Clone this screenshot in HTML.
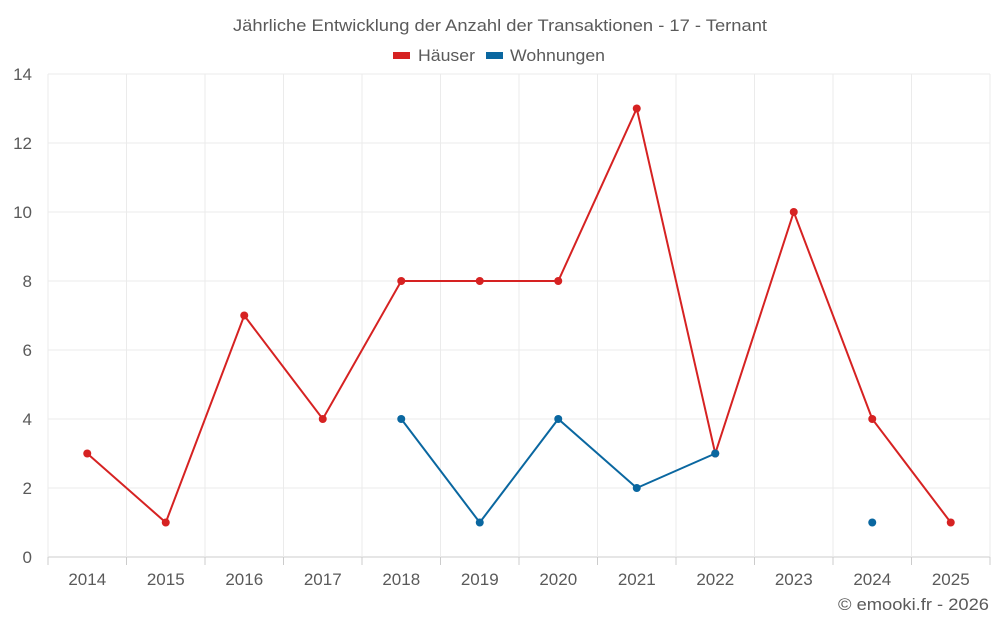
<!DOCTYPE html>
<html><head><meta charset="utf-8"><style>
body{margin:0;background:#fff;font-family:"Liberation Sans",sans-serif;}
svg text{font-family:"Liberation Sans",sans-serif;}
</style></head><body>
<svg id="chart" width="1000" height="625" viewBox="0 0 1000 625" xmlns="http://www.w3.org/2000/svg">
<text x="233" y="31" textLength="534" lengthAdjust="spacingAndGlyphs" font-size="17" fill="#5a5a5a">Jährliche Entwicklung der Anzahl der Transaktionen - 17 - Ternant</text>
<g>
<g><rect x="393" y="52" width="17" height="7" fill="#d62222"/><text x="418" y="61" textLength="57" lengthAdjust="spacingAndGlyphs" font-size="17" fill="#5a5a5a">Häuser</text></g>
<g><rect x="486" y="52" width="17" height="7" fill="#0a67a0"/><text x="510" y="61" textLength="95" lengthAdjust="spacingAndGlyphs" font-size="17" fill="#5a5a5a">Wohnungen</text></g>
</g>
<g id="grid"></g><g id="axes"></g><g id="series"></g>
<text x="838" y="610" textLength="151" lengthAdjust="spacingAndGlyphs" font-size="17" fill="#5a5a5a">© emooki.fr - 2026</text>
</svg>
<script>
const categories=[2014,2015,2016,2017,2018,2019,2020,2021,2022,2023,2024,2025];
const haeuser=[3,1,7,4,8,8,8,13,3,10,4,1];
const wohnungen=[null,null,null,null,4,1,4,2,3,null,1,null];
const yTicks=[0,2,4,6,8,10,12,14];
const NS="http://www.w3.org/2000/svg";
const L=48,R=990,T=74,B=557,yMax=14;
const bw=(R-L)/categories.length;
const x=i=>L+bw*(i+0.5);
const y=v=>B-(v/yMax)*(B-T);
function mk(tag,attrs,parent){const e=document.createElementNS(NS,tag);for(const k in attrs)e.setAttribute(k,attrs[k]);parent.appendChild(e);return e;}
const grid=document.getElementById('grid'),axes=document.getElementById('axes'),series=document.getElementById('series');
yTicks.forEach(t=>{
 const ln=mk('line',{x1:L,x2:R,y1:y(t),y2:y(t),stroke:t===0?'#ccc':'#ebebeb','stroke-width':1},grid);
 
 
 const tx=mk('text',{x:L-16,y:y(t)+6,'text-anchor':'end','font-size':17,fill:'#5a5a5a'},axes);
 tx.textContent=t;
 
 
});
for(let i=0;i<=categories.length;i++){
 const gx=L+bw*i;
 const ln=mk('line',{x1:gx,x2:gx,y1:T,y2:B,stroke:'#ebebeb','stroke-width':1},grid);
 
 
 const tk=mk('line',{x1:gx,x2:gx,y1:B,y2:B+8,stroke:'#ccc','stroke-width':1},axes);
 
 
}
categories.forEach((c,i)=>{
 const tx=mk('text',{x:x(i),y:585,'text-anchor':'middle','font-size':17,fill:'#5a5a5a'},axes);
 tx.textContent=c;
 
 
});
function draw(data,color,name){
 let segs=[],cur=[];
 data.forEach((v,i)=>{if(v==null){if(cur.length)segs.push(cur);cur=[];}else cur.push([x(i),y(v)]);});
 if(cur.length)segs.push(cur);
 segs.forEach(s=>{if(s.length>1){
  const p=mk('path',{d:'M'+s.map(q=>q.join(',')).join('L'),fill:'none',stroke:color,'stroke-width':2},series);
  
  
 }});
 data.forEach((v,i)=>{if(v!=null){
  const c=mk('circle',{cx:x(i),cy:y(v),r:4,fill:color},series);
  
  
 }});
}
draw(haeuser,'#d62222','haeuser');
draw(wohnungen,'#0a67a0','wohnungen');
</script>
</body></html>
